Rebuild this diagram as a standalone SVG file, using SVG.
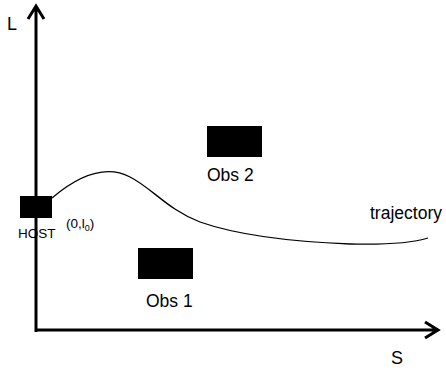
<svg xmlns="http://www.w3.org/2000/svg" width="446" height="375" viewBox="0 0 446 375">
<style>
.t{font-family:"Liberation Sans",Arial,sans-serif;fill:#000}
.ax{stroke:#000;stroke-width:3;fill:none}
</style>
<rect width="446" height="375" fill="#fff"/>
<g id="connectors">
<path class="ax" d="M36,332 V6 M28,19 L36,6 L44,19"/>
<path class="ax" d="M35,330 H438 M425,322 L438,330 L425,338"/>
<path d="M52,198 C78,176 105,164 130,177 C152,188 168,210 200,222 C240,236 300,242 350,244 C390,245 415,242 428,238" fill="none" stroke="#000" stroke-width="1.3"/>
</g>
<text class="t" x="7" y="30" font-size="18">L</text>
<text class="t" x="391" y="364" font-size="18">S</text>
<g id="host">
<rect x="20" y="196" width="32" height="22" fill="#000"/>
<text class="t" x="18" y="238" font-size="13.5">HOST</text>
</g>
<text class="t" x="66" y="228" font-size="13.5">(0,l<tspan font-size="9" dy="3">0</tspan><tspan dy="-3">)</tspan></text>
<g id="obs2">
<rect x="207" y="126" width="55" height="31" fill="#000"/>
<text class="t" x="207" y="181" font-size="17.5">Obs 2</text>
</g>
<g id="obs1">
<rect x="138" y="248" width="55" height="31" fill="#000"/>
<text class="t" x="146" y="307" font-size="17.5">Obs 1</text>
</g>
<text class="t" x="370" y="219" font-size="17.5">trajectory</text>
</svg>
